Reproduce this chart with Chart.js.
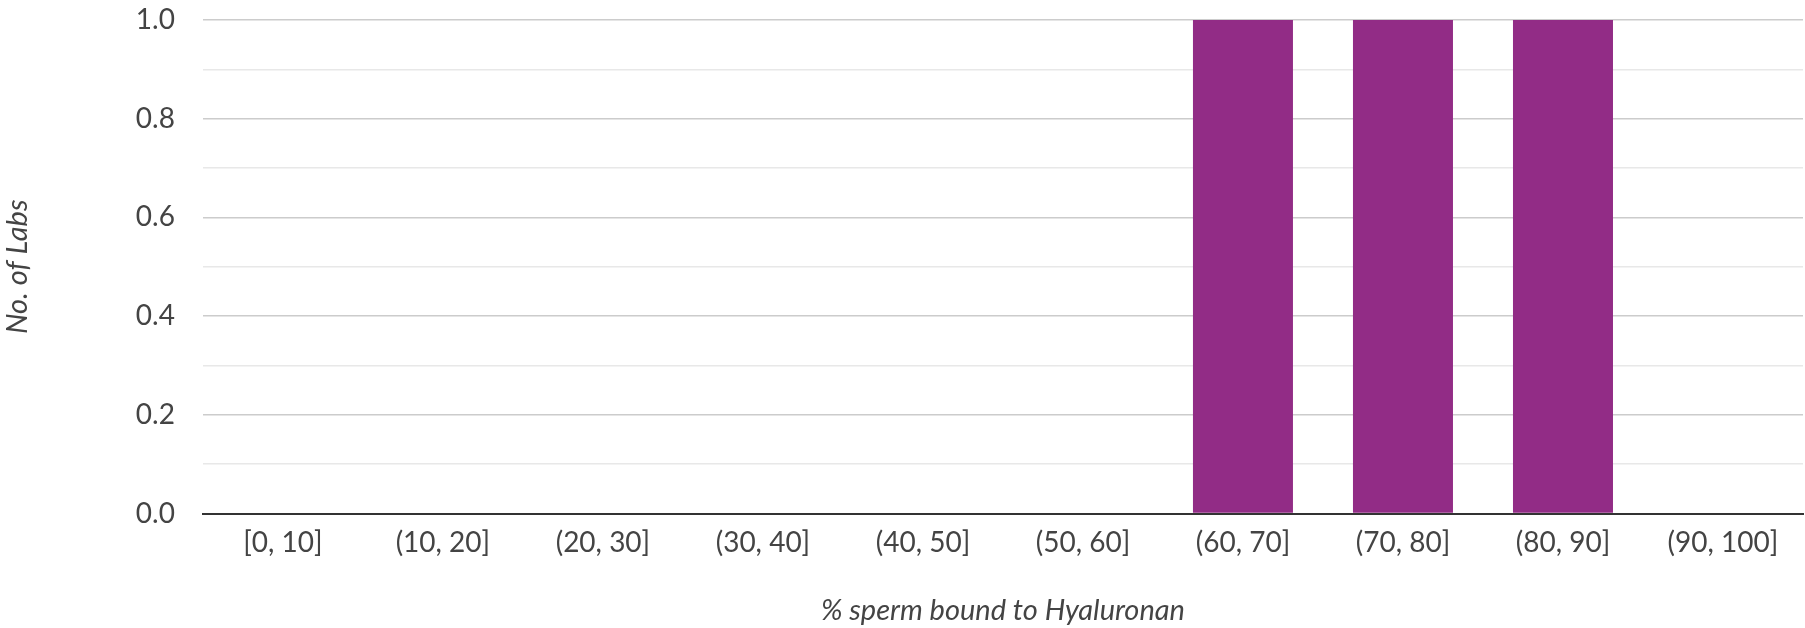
<!DOCTYPE html>
<html>
<head>
<meta charset="utf-8">
<script src="https://cdn.jsdelivr.net/npm/chart.js@4"></script>
<style>
  html, body { margin: 0; padding: 0; background: #fff; }
  #wrap { width: 1805px; height: 628px; }
</style>
</head>
<body>
<div id="wrap"><canvas id="labsChart"></canvas></div>
<script>
// bins of % sperm bound to Hyaluronan
const categories = ['[0, 10]', '(10, 20]', '(20, 30]', '(30, 40]', '(40, 50]',
    '(50, 60]', '(60, 70]', '(70, 80]', '(80, 90]', '(90, 100]'];
const labCounts = [0, 0, 0, 0, 0, 0, 1, 1, 1, 0];
const yTicks = [0, 0.2, 0.4, 0.6, 0.8, 1.0];

const textColor = '#444444';
const fontFamily = 'Lato, "Open Sans", sans-serif';

function renderChart() {
    const config = {
        type: 'bar',
        data: {
            labels: categories,
            datasets: [{
                label: 'No. of Labs',
                data: labCounts,
                backgroundColor: '#922c86',
                borderWidth: 0,
                categoryPercentage: 1,
                barPercentage: 0.625
            }]
        },
        options: {
            responsive: true,
            maintainAspectRatio: false,
            animation: false,
            layout: { padding: { top: 0, right: 2, bottom: 0, left: 0 } },
            plugins: {
                legend: { display: false },
                tooltip: { enabled: false }
            },
            scales: {
                x: {
                    grid: { display: false, drawTicks: false },
                    border: { display: true, color: '#333', width: 2 },
                    ticks: {
                        color: textColor,
                        font: { family: fontFamily, size: 28 },
                        padding: 13,
                        maxRotation: 0
                    },
                    title: {
                        display: true,
                        text: '% sperm bound to Hyaluronan',
                        color: textColor,
                        font: { family: fontFamily, size: 29, style: 'italic' },
                        padding: { top: 20, bottom: 0 }
                    }
                },
                y: {
                    min: 0,
                    max: 1,
                    border: { display: false },
                    grid: {
                        drawTicks: false,
                        // major lines on the labelled ticks, lighter in between
                        color: ctx => ctx.index % 2 === 0 ? '#cccccc' : '#e8e8e8',
                        lineWidth: 1.5
                    },
                    ticks: {
                        stepSize: 0.1,
                        color: textColor,
                        font: { family: fontFamily, size: 28 },
                        padding: 28,
                        callback: (value, index) => {
                            if (index % 2 !== 0) return '';
                            return yTicks[index / 2].toFixed(1);
                        }
                    },
                    // top gridline sits close to the canvas edge
                    afterFit: scale => { scale.paddingTop = 20; },
                    title: {
                        display: true,
                        text: 'No. of Labs',
                        color: textColor,
                        font: { family: fontFamily, size: 29, style: 'italic' },
                        padding: { top: 0, bottom: 73 }
                    }
                }
            }
        }
    };

    return new Chart(document.getElementById('labsChart'), config);
}

renderChart();
</script>
</body>
</html>
